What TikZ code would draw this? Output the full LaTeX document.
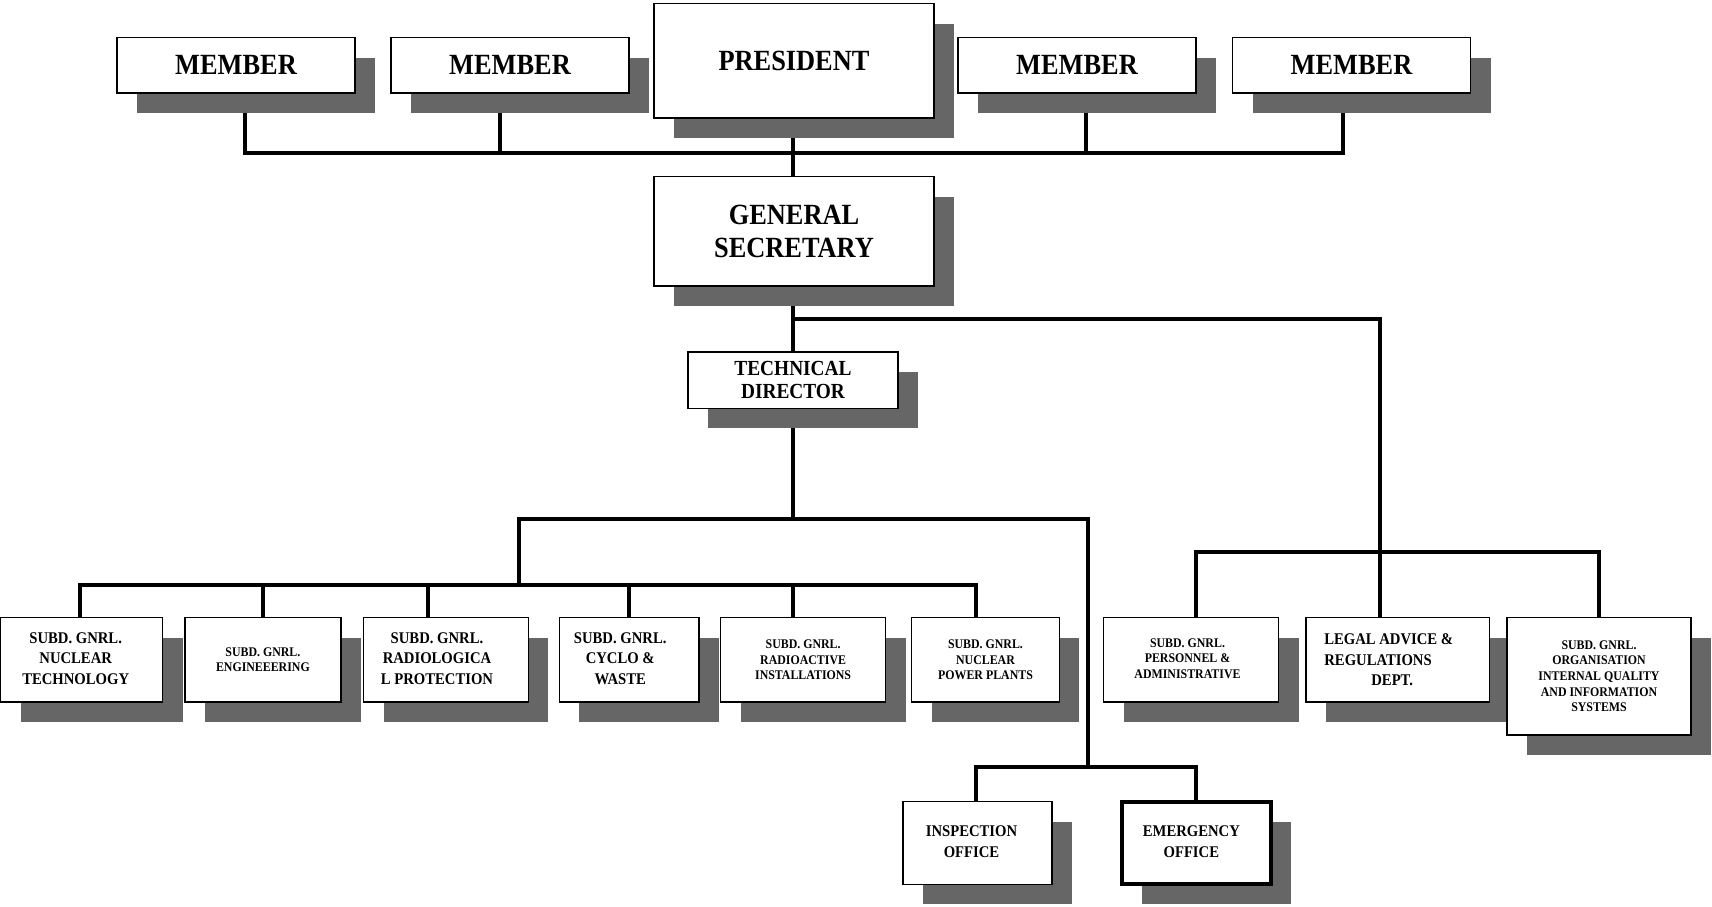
\documentclass[tikz,border=0pt]{standalone}
\usepackage{fontspec}
\setmainfont{Liberation Serif}
\newfontfamily\boxfont[FakeStretch=0.9]{Liberation Serif}
\usetikzlibrary{shadows}
\definecolor{shadowgray}{RGB}{102,102,102}
\pgfdeclarelayer{background}
\pgfsetlayers{background,main}

% a centred block of lines, set a little left of the middle of its box
\newcommand{\leftset}[2]{\raisebox{-1.5pt}{\begin{tabular}{@{}c@{}}#2\end{tabular}}\hspace*{#1}}

\tikzset{
  box/.style={draw=black, line width=1.4pt, fill=white, text=black,
    inner sep=0pt, outer sep=0pt, align=center,
    drop shadow={shadow xshift=20pt, shadow yshift=-20pt,
                 fill=shadowgray, opacity=1}},
  lblL/.style={font=\boxfont\bfseries\fontsize{29.3}{33}\selectfont},
  lblT/.style={font=\boxfont\bfseries\fontsize{21.5}{23.5}\selectfont},
  lblM/.style={font=\boxfont\bfseries\fontsize{16.3}{20.6}\selectfont},
  lblS/.style={font=\boxfont\bfseries\fontsize{13.2}{15.6}\selectfont},
  topbox/.style={box, lblL, minimum width=238pt, minimum height=55.5pt},
  unitbox/.style={box, minimum height=84.5pt},
  officebox/.style={box, lblM, minimum width=149pt, minimum height=82.6pt},
  link/.style={line width=4pt, line join=miter, line cap=rect, draw=black}
}

\begin{document}
\begin{tikzpicture}[x=1pt, y=-1pt]
\useasboundingbox (0,0) rectangle (1712,906);

% board
\node[topbox] (m1) at (236,65.25) {MEMBER};
\node[topbox] (m2) at (510,65.25) {MEMBER};
\node[box, lblL, minimum width=280pt, minimum height=114.5pt] (pres) at (794,60.75) {PRESIDENT};
\node[topbox] (m3) at (1077,65.25) {MEMBER};
\node[topbox] (m4) at (1351.5,65.25) {MEMBER};

% secretary and technical director
\node[box, lblL, minimum width=280pt, minimum height=109.5pt] (gs) at (794,231.25) {GENERAL\\SECRETARY};
\node[box, lblT, minimum width=210pt, minimum height=56.3pt] (td) at (793,380.15) {TECHNICAL\\DIRECTOR};

% technical sub-directorates
\node[unitbox, lblM, minimum width=162pt] (nt) at (81.7,659.75)
  {\leftset{12pt}{SUBD. GNRL.\\NUCLEAR\\TECHNOLOGY}};
\node[unitbox, lblS, minimum width=156.2pt] (eng) at (262.9,659.75)
  {SUBD. GNRL.\\ENGINEEERING};
\node[unitbox, lblM, minimum width=164.8pt] (rad) at (446,659.75)
  {\leftset{18pt}{SUBD. GNRL.\\RADIOLOGICA\\L PROTECTION}};
\node[unitbox, lblM, minimum width=139.8pt] (cyc) at (629.2,659.75)
  {\leftset{18pt}{SUBD. GNRL.\\CYCLO \&\\WASTE}};
\node[unitbox, lblS, minimum width=165.2pt] (rinst) at (803.1,659.75)
  {SUBD. GNRL.\\RADIOACTIVE\\INSTALLATIONS};
\node[unitbox, lblS, minimum width=147.6pt] (npp) at (985.5,659.75)
  {SUBD. GNRL.\\NUCLEAR\\POWER PLANTS};

% general secretary's departments
\node[unitbox, lblS, minimum width=175pt] (pers) at (1191,659.75)
  {\leftset{7pt}{SUBD. GNRL.\\PERSONNEL \&\\ADMINISTRATIVE}};
\node[unitbox, lblM, minimum width=183.5pt, align=left] (legal) at (1397.75,659.75)
  {LEGAL ADVICE \&\hspace*{18pt}\\REGULATIONS\\\hspace*{47pt}DEPT.};
\node[box, lblS, minimum width=184pt, minimum height=117.5pt] (org) at (1599,676.25)
  {SUBD. GNRL.\\ORGANISATION\\INTERNAL QUALITY\\AND INFORMATION\\SYSTEMS};

% offices
\node[officebox] (insp) at (977.5,843) {\leftset{12pt}{INSPECTION\\OFFICE}};
\node[officebox, line width=4pt] (emer) at (1196.85,843) {\leftset{11pt}{EMERGENCY\\OFFICE}};

% drop points of the connectors
\coordinate (m1d) at (m1.south -| 244.6,0);
\coordinate (m2d) at (m2.south -| 500,0);
\coordinate (m3d) at (m3.south -| 1086.3,0);
\coordinate (m4d) at (m4.south -| 1343,0);
\coordinate (ntd) at (nt.north -| 80.4,0);
\coordinate (engd) at (eng.north -| 263,0);
\coordinate (radd) at (rad.north -| 427.9,0);
\coordinate (cycd) at (cyc.north -| 628.8,0);
\coordinate (rinstd) at (rinst.north -| 793,0);
\coordinate (nppd) at (npp.north -| 976,0);
\coordinate (persd) at (pers.north -| 1195.8,0);
\coordinate (legald) at (legal.north -| 1379.7,0);
\coordinate (orgd) at (org.north -| 1599.4,0);
\coordinate (inspd) at (insp.north -| 976.3,0);
\coordinate (emerd) at (emer.north -| 1195.7,0);

% junctions
\coordinate (jA) at (793.3,152.5);
\coordinate (jB) at (793.3,319);
\coordinate (jC) at (793,519);
\coordinate (jD) at (518.6,585);
\coordinate (jE) at (1087.7,766.7);
\coordinate (jF) at (1379.7,551.7);

\begin{pgfonlayer}{background}
  % board
  \draw[link] (m1d) |- (jA) -| (m4d);
  \draw[link] (m2d) |- (jA);
  \draw[link] (m3d) |- (jA);
  \draw[link] (pres.south -| jA) -- (gs.north -| jA);
  % secretary
  \draw[link] (gs.south -| jA) -- (td.north -| jA);
  \draw[link] (jB) -| (legald);
  \draw[link] (jF) -| (persd);
  \draw[link] (jF) -| (orgd);
  % technical director
  \draw[link] (td.south -| jC) -- (jC);
  \draw[link] (jD) |- (jC) -| (jE);
  \draw[link] (ntd) |- (jD) -| (nppd);
  \draw[link] (engd) |- (jD);
  \draw[link] (radd) |- (jD);
  \draw[link] (cycd) |- (jD);
  \draw[link] (rinstd) |- (jD);
  \draw[link] (inspd) |- (jE) -| (emerd);
\end{pgfonlayer}
\end{tikzpicture}
\end{document}
